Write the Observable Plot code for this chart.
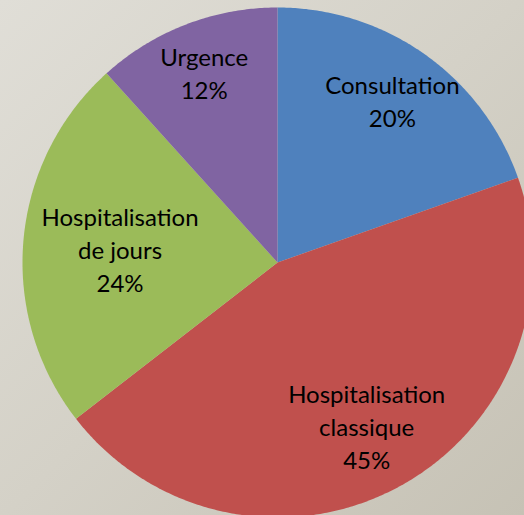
<!DOCTYPE html>
<html><head><meta charset="utf-8">
<script src="https://cdn.jsdelivr.net/npm/d3@7"></script>
<script src="https://cdn.jsdelivr.net/npm/@observablehq/plot@0.6"></script>
<style>html,body{margin:0;padding:0;background:#d6d3c9;overflow:hidden;}</style>
</head><body><div id="chart"></div>
<script>
// ---- data ----
const categories = ["Consultation", "Hospitalisation classique", "Hospitalisation de jours", "Urgence"];
const labelTexts = ["Consultation", "Hospitalisation\nclassique", "Hospitalisation\nde jours", "Urgence"];
const values = [19.6, 44.9, 23.8, 11.7];
const colors = ["#4f81bd", "#c0504d", "#9bbb59", "#8064a2"];

// ---- layout (not data) ----
const labelRadius = [0.78, 0.73, 0.62, 0.80];

const total = d3.sum(values);
const arcs = d3.pie().sort(null).value(d => d)(values);

const slices = [];
const labels = [];
arcs.forEach((a, i) => {
  const cat = categories[i];
  slices.push({cat, x: 0, y: 0});
  const n = Math.max(2, Math.ceil((a.endAngle - a.startAngle) / (Math.PI / 360)));
  for (let k = 0; k <= n; k++) {
    const t = a.startAngle + (a.endAngle - a.startAngle) * k / n;
    slices.push({cat, x: Math.sin(t), y: Math.cos(t)});
  }
  const mid = (a.startAngle + a.endAngle) / 2;
  const r = labelRadius[i];
  labels.push({
    cat,
    x: r * Math.sin(mid),
    y: r * Math.cos(mid),
    text: labelTexts[i] + "\n" + d3.format(".0f")(values[i] / total * 100) + "%"
  });
});

const chart = Plot.plot({
  width: 524,
  height: 515,
  margin: 0,
  x: {domain: [-1, 1], range: [22, 532], axis: null},
  y: {domain: [-1, 1], range: [517, 7], axis: null},
  color: {domain: categories, range: colors},
  style: {
    background: "linear-gradient(135deg, #e0ded7 0%, #d4d1c7 50%, #c6c2b5 100%)",
    fontFamily: "Lato, 'Open Sans', sans-serif",
    overflow: "hidden"
  },
  marks: [
    Plot.line(slices, {x: "x", y: "y", z: "cat", fill: "cat", stroke: "none", curve: "linear-closed"}),
    Plot.text(labels, {x: "x", y: "y", text: "text", fontSize: 24, lineHeight: 1.375, fill: "black", textAnchor: "middle"})
  ]
});
document.getElementById("chart").appendChild(chart);
</script>
</body></html>
